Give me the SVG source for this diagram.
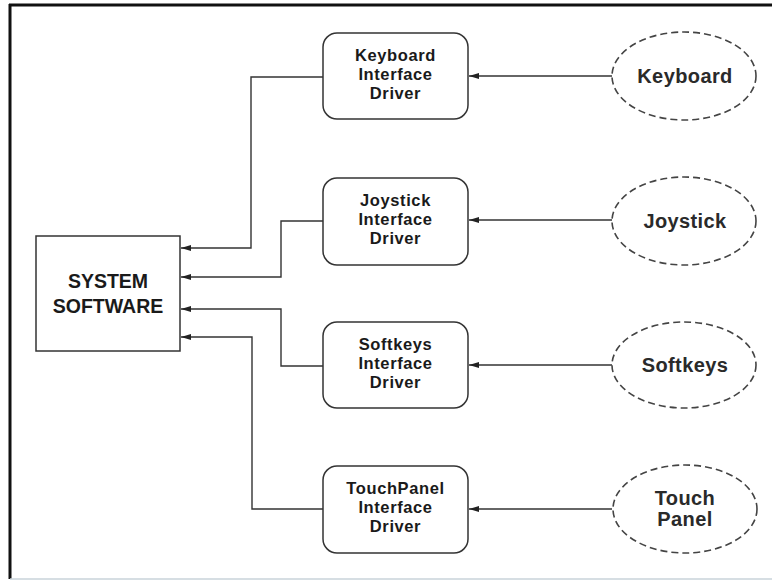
<svg xmlns="http://www.w3.org/2000/svg" width="772" height="581" viewBox="0 0 772 581">
<style>
  .frame { stroke: #111; stroke-width: 3; fill: none; }
  .box { fill: #fff; stroke: #333; stroke-width: 1.5; }
  .ell { fill: #fff; stroke: #444; stroke-width: 1.6; stroke-dasharray: 7 4; }
  .wire { fill: none; stroke: #333; stroke-width: 1.4; }
  .t { font-family: "Liberation Sans", Arial, sans-serif; font-weight: bold; fill: #1a1a1a; text-anchor: middle; }
  .drv { font-size: 16.5px; letter-spacing: 0.6px; }
  .sys { font-size: 19.5px; }
  .dev { font-size: 20px; letter-spacing: 0.4px; fill: #2a2a2a; }
</style>
<defs>
  <marker id="ah" viewBox="0 0 10 6" refX="10" refY="3" markerWidth="10" markerHeight="6" markerUnits="userSpaceOnUse" orient="auto">
    <path d="M0,0 L10,3 L0,6 Z" fill="#222"/>
  </marker>
</defs>
<rect width="772" height="581" fill="#fff"/>
<g id="frame">
  <line class="frame" x1="9" y1="5" x2="772" y2="5"/>
  <line class="frame" x1="10" y1="4" x2="10" y2="579"/>
  <line x1="10" y1="579" x2="772" y2="579" stroke="#c9d3da" stroke-width="1.5"/>
</g>
<g id="connectors">
  <path class="wire" d="M323,77 H251 V248 H181" marker-end="url(#ah)"/>
  <path class="wire" d="M323,221 H281 V277 H181" marker-end="url(#ah)"/>
  <path class="wire" d="M323,366 H281 V309 H181" marker-end="url(#ah)"/>
  <path class="wire" d="M323,509 H252 V337 H181" marker-end="url(#ah)"/>
  <path class="wire" d="M612,76 H469" marker-end="url(#ah)"/>
  <path class="wire" d="M612,220 H469" marker-end="url(#ah)"/>
  <path class="wire" d="M612,365 H469" marker-end="url(#ah)"/>
  <path class="wire" d="M612,509 H469" marker-end="url(#ah)"/>
</g>
<g id="system-software">
  <rect class="box" x="36" y="236" width="144" height="115"/>
  <text class="t sys" x="108" y="288">SYSTEM</text>
  <text class="t sys" x="108" y="313">SOFTWARE</text>
</g>
<g id="keyboard-driver">
  <rect class="box" x="323" y="33" width="145" height="86" rx="14"/>
  <text class="t drv" x="395.5" y="61">Keyboard</text>
  <text class="t drv" x="395.5" y="80">Interface</text>
  <text class="t drv" x="395.5" y="99">Driver</text>
</g>
<g id="joystick-driver">
  <rect class="box" x="323" y="178" width="145" height="87" rx="14"/>
  <text class="t drv" x="395.5" y="206">Joystick</text>
  <text class="t drv" x="395.5" y="225">Interface</text>
  <text class="t drv" x="395.5" y="244">Driver</text>
</g>
<g id="softkeys-driver">
  <rect class="box" x="323" y="322" width="145" height="86" rx="14"/>
  <text class="t drv" x="395.5" y="350">Softkeys</text>
  <text class="t drv" x="395.5" y="369">Interface</text>
  <text class="t drv" x="395.5" y="388">Driver</text>
</g>
<g id="touchpanel-driver">
  <rect class="box" x="323" y="466" width="145" height="87" rx="14"/>
  <text class="t drv" x="395.5" y="494">TouchPanel</text>
  <text class="t drv" x="395.5" y="513">Interface</text>
  <text class="t drv" x="395.5" y="532">Driver</text>
</g>
<g id="keyboard">
  <ellipse class="ell" cx="684" cy="76" rx="72" ry="44"/>
  <text class="t dev" x="685" y="83">Keyboard</text>
</g>
<g id="joystick">
  <ellipse class="ell" cx="684" cy="221" rx="72" ry="44"/>
  <text class="t dev" x="685" y="228">Joystick</text>
</g>
<g id="softkeys">
  <ellipse class="ell" cx="684" cy="365" rx="72" ry="43"/>
  <text class="t dev" x="685" y="372">Softkeys</text>
</g>
<g id="touch-panel">
  <ellipse class="ell" cx="685" cy="509" rx="72" ry="44"/>
  <text class="t dev" x="685" y="505">Touch</text>
  <text class="t dev" x="685" y="526">Panel</text>
</g>
</svg>
